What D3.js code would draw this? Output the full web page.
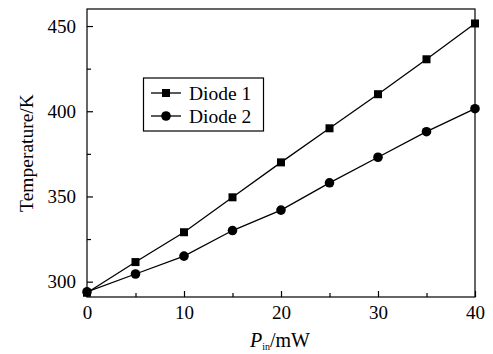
<!DOCTYPE html>
<html>
<head>
<meta charset="utf-8">
<script src="https://cdn.jsdelivr.net/npm/d3@7"></script>
<style>
  body { margin: 0; background: #fff; }
  svg text { font-family: "Liberation Serif", "Times New Roman", serif; fill: #000; }
</style>
</head>
<body>
<div id="graph"></div>
<script>
// data
const power = [0, 5, 10, 15, 20, 25, 30, 35, 40];
const diode1 = [293.5, 311.5, 329, 349.5, 370, 390, 410, 430.5, 451.5];
const diode2 = [294, 304.5, 315, 330, 342, 358, 373, 388, 401.5];
const xTicks = [0, 10, 20, 30, 40];
const xMinor = [5, 15, 25, 35];
const yTicks = [300, 350, 400, 450];
const yMinor = [325, 375, 425];
const seriesNames = ['Diode 1', 'Diode 2'];

const w = 493, h = 354;
const pad_left = 87, pad_right = 475, pad_top = 9, pad_bottom = 297;

const svg = d3.select('#graph').append('svg')
  .attr('width', w).attr('height', h);

const xScale = d3.scaleLinear().domain([0, 40]).range([pad_left, pad_right]);
const yScale = d3.scaleLinear().domain([291, 460]).range([pad_bottom, pad_top]);

// frame
svg.append('rect')
  .attr('x', pad_left).attr('y', pad_top)
  .attr('width', pad_right - pad_left).attr('height', pad_bottom - pad_top)
  .attr('fill', 'none').attr('stroke', '#000').attr('stroke-width', 1.2);

// x axis (inward ticks)
const xAxis = svg.append('g')
  .attr('transform', 'translate(0,' + pad_bottom + ')')
  .call(d3.axisBottom(xScale).tickValues(xTicks).tickSize(-6).tickPadding(9));
xAxis.append('g')
  .call(d3.axisBottom(xScale).tickValues(xMinor).tickSize(-4).tickFormat(''));
xAxis.selectAll('.domain').remove();
xAxis.attr('font-size', 19).attr('font-family', null);
xAxis.selectAll('text').attr('font-size', 19)
  .style('font-family', '"Liberation Serif", serif');

// y axis
const yAxis = svg.append('g')
  .attr('transform', 'translate(' + pad_left + ',0)')
  .call(d3.axisLeft(yScale).tickValues(yTicks).tickSize(-6).tickPadding(11));
yAxis.append('g')
  .call(d3.axisLeft(yScale).tickValues(yMinor).tickSize(-4).tickFormat(''));
yAxis.selectAll('.domain').remove();
yAxis.attr('font-size', 19).attr('font-family', null);
yAxis.selectAll('text').attr('font-size', 19)
  .style('font-family', '"Liberation Serif", serif');
svg.selectAll('.tick line').attr('stroke-width', 1.2);

const line = d3.line()
  .x((d, i) => xScale(power[i]))
  .y(d => yScale(d));

[diode1, diode2].forEach(s => {
  svg.append('path')
    .attr('d', line(s))
    .attr('fill', 'none').attr('stroke', '#000').attr('stroke-width', 1.3);
});

// markers
svg.selectAll('rect.sq')
  .data(diode1).enter().append('rect')
  .attr('class', 'sq')
  .attr('x', (d, i) => xScale(power[i]) - 4)
  .attr('y', d => yScale(d) - 4)
  .attr('width', 8).attr('height', 8)
  .attr('fill', '#000');

svg.selectAll('circle.dot')
  .data(diode2).enter().append('circle')
  .attr('class', 'dot')
  .attr('cx', (d, i) => xScale(power[i]))
  .attr('cy', d => yScale(d))
  .attr('r', 4.8)
  .attr('fill', '#000');

// legend
const legend = svg.append('g');
legend.append('rect')
  .attr('x', 143.5).attr('y', 78)
  .attr('width', 120).attr('height', 53)
  .attr('fill', '#fff').attr('stroke', '#000').attr('stroke-width', 1.2);
seriesNames.forEach((name, i) => {
  const ly = 93 + i * 23;
  legend.append('line')
    .attr('x1', 151).attr('x2', 181).attr('y1', ly).attr('y2', ly)
    .attr('stroke', '#000').attr('stroke-width', 1.3);
  if (i === 0) {
    legend.append('rect').attr('x', 162).attr('y', ly - 4)
      .attr('width', 8).attr('height', 8).attr('fill', '#000');
  } else {
    legend.append('circle').attr('cx', 166).attr('cy', ly).attr('r', 4.8).attr('fill', '#000');
  }
  legend.append('text')
    .attr('x', 189).attr('y', ly + 6.5)
    .attr('font-size', 19.5)
    .text(name);
});

// y label
svg.append('text')
  .attr('transform', 'translate(33,153) rotate(-90)')
  .attr('text-anchor', 'middle')
  .attr('font-size', 19.5)
  .text('Temperature/K');

// x label
const xl = svg.append('text')
  .attr('x', 280).attr('y', 347)
  .attr('text-anchor', 'middle')
  .attr('font-size', 20);
xl.append('tspan').attr('font-style', 'italic').text('P');
xl.append('tspan').attr('font-size', 10).attr('dy', 3).text('in');
xl.append('tspan').attr('dy', -3).text('/mW');
</script>
</body>
</html>
